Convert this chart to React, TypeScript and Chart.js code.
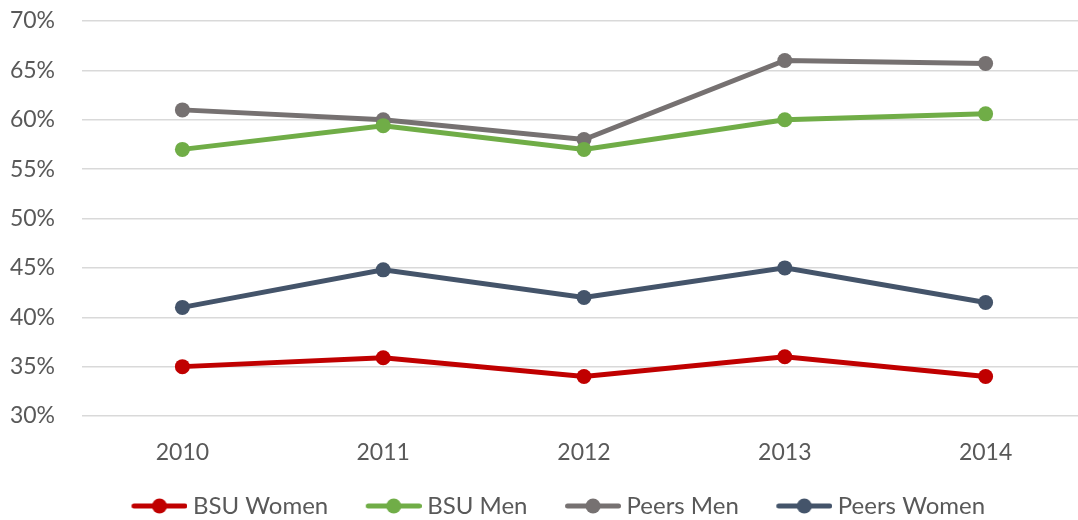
import React, { useEffect, useRef } from "react";
import { Chart, registerables } from "chart.js";

Chart.register(...registerables);

const years = ["2010", "2011", "2012", "2013", "2014"];
const bsuWomen = [35, 35.9, 34, 36, 34];
const bsuMen = [57, 59.4, 57, 60, 60.6];
const peersMen = [61, 60, 58, 66, 65.7];
const peersWomen = [41, 44.8, 42, 45, 41.5];
const seriesNames = ["BSU Women", "BSU Men", "Peers Men", "Peers Women"];
const seriesColors = ["#C00000", "#70AD47", "#767171", "#44546A"];
const yTicks = [30, 35, 40, 45, 50, 55, 60, 65, 70];

const FONT = "Lato, 'Open Sans', sans-serif";
const FS = 23;
const LFS = 24;

function legendIcon(color: string): HTMLCanvasElement {
  const c = document.createElement("canvas");
  c.width = 90;
  c.height = 16;
  const ctx = c.getContext("2d")!;
  ctx.strokeStyle = color;
  ctx.lineWidth = 5;
  ctx.lineCap = "round";
  ctx.beginPath();
  ctx.moveTo(36.5, 8);
  ctx.lineTo(87.5, 8);
  ctx.stroke();
  ctx.fillStyle = color;
  ctx.beginPath();
  ctx.arc(62, 8, 7.5, 0, Math.PI * 2);
  ctx.fill();
  return c;
}

export default function App() {
  const ref = useRef<HTMLCanvasElement | null>(null);
  useEffect(() => {
    if (!ref.current) return;
    const data = [bsuWomen, bsuMen, peersMen, peersWomen];
    const icons = seriesColors.map(legendIcon);
    const chart = new Chart(ref.current, {
      type: "line",
      data: {
        labels: years,
        datasets: data.map((d, i) => ({
          label: seriesNames[i],
          data: d,
          borderColor: seriesColors[i],
          backgroundColor: seriesColors[i],
          pointBackgroundColor: seriesColors[i],
          pointBorderColor: seriesColors[i],
          borderWidth: 5,
          pointRadius: 7.5,
          pointBorderWidth: 0,
          tension: 0,
          pointStyle: "circle",
          clip: false as any,
        })),
      },
      options: {
        animation: false,
        responsive: false,
        maintainAspectRatio: false,
        layout: { autoPadding: false, padding: { top: 21, right: 0, left: 3, bottom: -8 } },
        plugins: {
          tooltip: { enabled: false },
          legend: {
            position: "bottom",
            labels: {
              usePointStyle: true,
              pointStyleWidth: 77,
              padding: 10,
              color: "#595959",
              font: { family: FONT, size: LFS },
              generateLabels: (ch: any) =>
                ch.data.datasets.map((ds: any, i: number) => ({
                  text: ds.label,
                  fillStyle: ds.borderColor,
                  strokeStyle: ds.borderColor,
                  lineWidth: 0,
                  pointStyle: icons[i],
                  hidden: false,
                  datasetIndex: i,
                  fontColor: "#595959",
                })),
            },
          },
        },
        scales: {
          x: {
            offset: true,
            grid: { display: false, drawTicks: false },
            border: { display: false },
            afterFit: (s: any) => {
              s.height = 68;
              s.paddingLeft = 0;
              s.paddingRight = 0;
            },
            ticks: {
              color: "#595959",
              font: { family: FONT, size: FS },
              padding: 23,
            },
          },
          y: {
            min: 30,
            max: 70,
            afterFit: (s: any) => {
              s.width = 79;
              s.paddingTop = 0;
              s.paddingBottom = 0;
            },
            afterBuildTicks: (s: any) => {
              s.ticks = yTicks.map((v) => ({ value: v }));
            },
            grid: { color: "#D9D9D9", lineWidth: 1.5, drawTicks: false },
            border: { display: false },
            ticks: {
              color: "#595959",
              font: { family: FONT, size: FS },
              padding: 27,
              callback: (v: any) => v + "%",
            },
          },
        },
      },
    });
    return () => chart.destroy();
  }, []);
  return (
    <div
      style={{
        position: "fixed",
        left: 0,
        top: 0,
        width: 1078,
        height: 520,
        overflow: "hidden",
        background: "#fff",
      }}
    >
      <div style={{ width: 1086, height: 520 }}>
        <canvas ref={ref} width={1086} height={520} style={{ display: "block", width: 1086, height: 520 }} />
      </div>
    </div>
  );
}
